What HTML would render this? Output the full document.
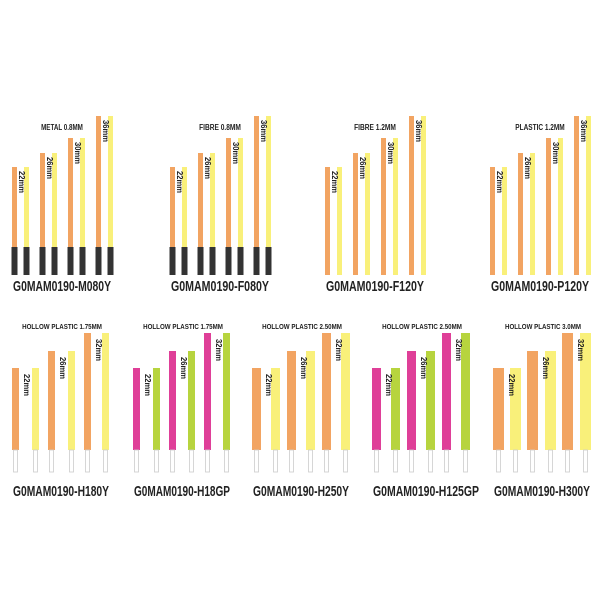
<!DOCTYPE html>
<html><head><meta charset="utf-8"><style>
html,body{margin:0;padding:0;background:#fff;}
svg{display:block;}
text{font-family:"Liberation Sans",sans-serif;font-weight:bold;fill:#222;}
</style></head><body>
<svg id="s" width="600" height="600" viewBox="0 0 600 600" xmlns="http://www.w3.org/2000/svg"></svg>
<script>
const S=document.getElementById('s');let h='';
const OR='#f2a462',YE='#f9f07a',PK='#df3f98',GR='#b7d43e';
function rect(x,y,w,hh,c){h+=`<rect x="${x}" y="${y}" width="${w}" height="${hh}" fill="${c}"/>`;}
function vlabel(x,y,t,fs){h+=`<text x="${x}" y="${y}" font-size="${fs}" textLength="22" lengthAdjust="spacingAndGlyphs" transform="rotate(90 ${x} ${y})">${t}</text>`;}
function title(cx,y,t,fs){const L=t.length*3.8;h+=`<text x="${cx-L/2}" y="${y}" font-size="${fs}" textLength="${L}" lengthAdjust="spacingAndGlyphs">${t}</text>`;}
// Row 1
const r1=[[12,'METAL 0.8MM','G0MAM0190-M080Y',1],[170,'FIBRE 0.8MM','G0MAM0190-F080Y',1],[325,'FIBRE 1.2MM','G0MAM0190-F120Y',0],[490,'PLASTIC 1.2MM','G0MAM0190-P120Y',0]];
const tops1=[167,153,138,116],mm1=['22mm','26mm','30mm','36mm'];
r1.forEach(([s,t,lab,blk])=>{
  for(let i=0;i<4;i++){
    const x=s+i*28;const bot=blk?247:275;
    rect(x,tops1[i],5,bot-tops1[i],OR);rect(x+12,tops1[i],5,bot-tops1[i],YE);
    if(blk){rect(x-0.5,247,6,28,'#333');rect(x+11.5,247,6,28,'#333');}
    vlabel(x+7,tops1[i]+4,mm1[i],8.5);
  }
  title(s+50,130,t,8);
  h+=`<text x="${s+1}" y="291" font-size="15" textLength="98" lengthAdjust="spacingAndGlyphs">${lab}</text>`;
});
// Row 2
const r2=[[12,'HOLLOW PLASTIC 1.75MM','G0MAM0190-H180Y',OR,YE,7,[0,20,36,56,72,90]],
[133,'HOLLOW PLASTIC 1.75MM','G0MAM0190-H18GP',PK,GR,7,[0,20,36,55,71,90]],
[252,'HOLLOW PLASTIC 2.50MM','G0MAM0190-H250Y',OR,YE,9,[0,19,35,54,70,89]],
[372,'HOLLOW PLASTIC 2.50MM','G0MAM0190-H125GP',PK,GR,9,[0,19,35,54,70,89]],
[493,'HOLLOW PLASTIC 3.0MM','G0MAM0190-H300Y',OR,YE,11,[0,17,34,52,69,87]]];
const tops2=[368,351,333],mm2=['22mm','26mm','32mm'];
r2.forEach(([s,t,lab,c1,c2,w,xs])=>{
  for(let i=0;i<3;i++){
    const tp=tops2[i];
    [[xs[2*i],c1],[xs[2*i+1],c2]].forEach(([dx,c])=>{
      const x=s+dx;rect(x,tp,w,450-tp,c);
      h+=`<rect x="${x+w/2-2}" y="450" width="4" height="22" fill="#fff" stroke="#ccc" stroke-width="0.8"/>`;
    });
    vlabel(s+xs[2*i]+w+5,tp+6,mm2[i],8.5);
  }
  title(s+50,329,t,7.5);
  h+=`<text x="${s+1}" y="496" font-size="15" textLength="${lab.length>15?106:96}" lengthAdjust="spacingAndGlyphs">${lab}</text>`;
});
S.innerHTML=h;
</script>
</body></html>
